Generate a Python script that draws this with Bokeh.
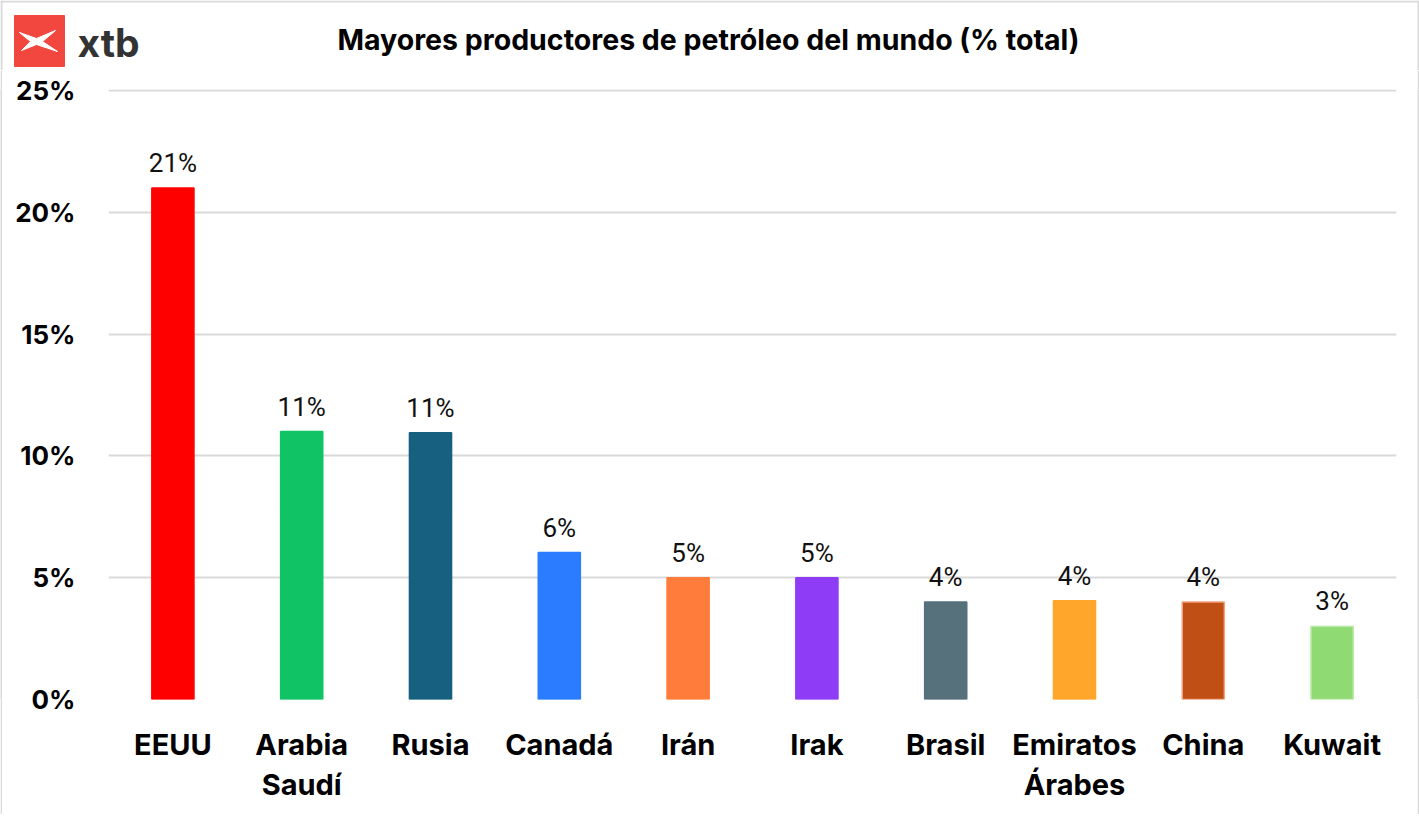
from bokeh.plotting import figure
from bokeh.layouts import column, row
from bokeh.models import (FactorRange, Range1d, ColumnDataSource, SingleIntervalTicker,
                          PrintfTickFormatter, LabelSet)
from bokeh.core.properties import value
from bokeh.embed import file_html
from bokeh.resources import INLINE

categories = ["EEUU", "Arabia\nSaudí", "Rusia", "Canadá", "Irán", "Irak",
              "Brasil", "Emiratos\nÁrabes", "China", "Kuwait"]
shares = [21.0, 11.0, 10.95, 6.03, 5.0, 5.0, 4.0, 4.05, 4.0, 3.0]
share_labels = ["21%", "11%", "11%", "6%", "5%", "5%", "4%", "4%", "4%", "3%"]
bar_colors = ["#FF0000", "#10C466", "#17607F", "#2B7CFF", "#FF7C3A", "#8E3CF5",
              "#56707C", "#FFA62B", "#C04F15", "#90DA74"]
bar_lines = ["#FF0000", "#10C466", "#17607F", "#2B7CFF", "#FF7C3A", "#8E3CF5",
             "#56707C", "#FFA62B", "#F2A27E", "#B6E8A2"]
title_text = "Mayores productores de petróleo del mundo (% total)"

W, H = 1419, 816
BORDER = "#D9D9D9"
HEAD_H = 70
BW = 2
MAIN_W = W - 2 * BW
MAIN_H = H - HEAD_H - BW
# frame in page pixels: left 108, right 1396, top 89, bottom 699
FL, FR, FT, FB = 108 - BW, 1396 - BW, 89 - HEAD_H, 699 - HEAD_H
Y_MAX = 25.04


def bare(width, height, **kw):
    f = figure(width=width, height=height, output_backend="svg", toolbar_location=None,
               x_axis_type=None, y_axis_type=None, min_border=0, **kw)
    f.outline_line_color = None
    f.xgrid.visible = False
    f.ygrid.visible = False
    return f


# ---------- header: logo + title ----------
head = bare(W, HEAD_H, x_range=Range1d(0, W), y_range=Range1d(HEAD_H, 0))
head.background_fill_color = "white"
head.border_fill_color = "white"
head.segment(x0=[0, 1, W - 1], y0=[1, 0, 0], x1=[W, 1, W - 1], y1=[1, HEAD_H, HEAD_H],
             line_color=BORDER, line_width=2)
head.quad(left=[14], right=[64], top=[15], bottom=[66], fill_color="#F2473F",
          line_color="#F2473F")
head.patch(x=[19, 36, 55, 42, 57, 36, 21, 30], y=[32, 38, 30, 41, 51, 44, 50, 41],
           fill_color="white", line_color="white", line_width=1)
head.text(x=[77], y=[42], text=["xtb"], text_align="left", text_baseline="middle",
          text_font=value("Inter"), text_font_style="bold", text_font_size="39px",
          text_color="#333333")
head.text(x=[708], y=[39], text=[title_text], text_align="center", text_baseline="middle",
          text_font=value("Inter"), text_font_style="bold", text_font_size="28.5px",
          text_color="#000000")

# ---------- main chart ----------
p = figure(width=MAIN_W, height=MAIN_H,
           x_range=FactorRange(factors=categories, range_padding=0),
           y_range=Range1d(0, Y_MAX), output_backend="svg", toolbar_location=None,
           title=None, min_border_left=FL, min_border_right=MAIN_W - FR,
           min_border_top=FT, min_border_bottom=MAIN_H - FB)
p.outline_line_color = None
p.background_fill_color = "white"
p.border_fill_color = "white"

src = ColumnDataSource(dict(cat=categories, val=shares, lab=share_labels,
                            fc=bar_colors, lc=bar_lines))
p.vbar(x="cat", top="val", width=0.327, bottom=0, source=src,
       fill_color="fc", line_color="lc", line_width=1.5)
p.add_layout(LabelSet(x="cat", y="val", text="lab", source=src, text_align="center",
                      text_baseline="middle", y_offset=25, text_font=value("Roboto"),
                      text_font_size="26px", text_color="#111111"))

p.xgrid.grid_line_color = None
p.ygrid.grid_line_color = BORDER
p.ygrid.grid_line_width = 2
p.yaxis.ticker = SingleIntervalTicker(interval=5)
p.yaxis.formatter = PrintfTickFormatter(format="%d%%")
for ax in (p.xaxis[0], p.yaxis[0]):
    ax.axis_line_color = None
    ax.major_tick_line_color = None
    ax.minor_tick_line_color = None
    ax.major_label_text_font = "Inter"
    ax.major_label_text_font_style = "bold"
    ax.major_label_text_color = "#000000"
p.yaxis.major_label_text_font_size = "26px"
p.yaxis.major_label_standoff = 27
p.xaxis.major_label_text_font_size = "29px"
p.xaxis.major_label_text_line_height = 1.17
p.xaxis.major_label_standoff = 21


def strip(width, height):
    s = bare(width, height, x_range=Range1d(0, 1), y_range=Range1d(0, 1))
    s.background_fill_color = BORDER
    s.border_fill_color = BORDER
    return s


layout = column(head,
                row(strip(BW, MAIN_H), p, strip(BW, MAIN_H), spacing=0),
                strip(W, BW), spacing=0)

open("out.html", "w").write(file_html(layout, INLINE))
